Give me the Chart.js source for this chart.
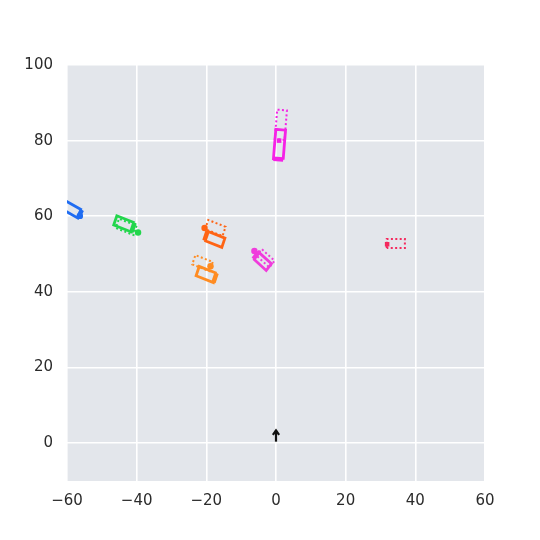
<!DOCTYPE html>
<html>
<head>
<meta charset="utf-8">
<script src="https://cdn.jsdelivr.net/npm/chart.js@4.4.1/dist/chart.umd.min.js"></script>
<style>
  html, body { margin: 0; padding: 0; background: #fff; }
</style>
</head>
<body>
<canvas id="scene" width="540" height="540"></canvas>
<script>
// axis ticks
var xTicks = [-60, -40, -20, 0, 20, 40, 60];
var yTicks = [0, 20, 40, 60, 80, 100];

// agents: x, y in metres, heading in degrees
var agentNames = ['blue', 'green', 'orangeA', 'orangeB', 'magentaA', 'magentaB', 'red'];
var carX = [-58.6, -43.6, -17.6, -20.0, 1.0, -3.9, null];
var carY = [61.8, 58.0, 53.9, 44.6, 79.0, 48.1, null];
var carHeading = [-28, -20, 160, -20, -95, 140, null];
var ghostX = [null, -43.0, -17.4, -21.1, 1.4, -3.0, 34.4];
var ghostY = [null, 57.2, 56.9, 47.6, 84.2, 48.9, 52.8];
var ghostHeading = [null, -20, 160, -20, -95, 140, 180];
var dotX = [-56.3, -39.6, -20.5, -18.8, 0.9, -6.2, 31.9];
var dotY = [60.1, 55.7, 56.9, 46.8, 80.0, 50.8, 52.6];
var carLength = [5.2, 5.4, 5.3, 5.3, 7.8, 4.8, 5.2];
var carWidth = [2.4, 2.6, 2.6, 2.6, 2.8, 2.3, 2.4];

// ego arrow
var arrowX = [0, 0];
var arrowY = [0.4, 3.4];
var arrowHeadX = [-0.9, 0, 0.9];
var arrowHeadY = [2.2, 3.4, 2.2];

var colors = ['#1f6cf2', '#22d64c', '#ff6414', '#ff8c22', '#f522e6', '#f03cdc', '#f42a5e'];
var dotStyles = ['circle', 'circle', 'circle', 'circle', 'rect', 'circle', 'rect'];

function corners(cx, cy, hdg, len, wid) {
  var a = hdg * Math.PI / 180;
  var dx = Math.cos(a), dy = Math.sin(a);
  var px = -dy, py = dx;
  var hl = len / 2, hw = wid / 2;
  return [
    {x: cx + dx * hl + px * hw, y: cy + dy * hl + py * hw},
    {x: cx + dx * hl - px * hw, y: cy + dy * hl - py * hw},
    {x: cx - dx * hl - px * hw, y: cy - dy * hl - py * hw},
    {x: cx - dx * hl + px * hw, y: cy - dy * hl + py * hw}
  ];
}

function zip(xs, ys) {
  return xs.map(function (x, i) { return {x: x, y: ys[i]}; });
}

var datasets = [];
function lineSet(points, color, width, dash) {
  datasets.push({
    type: 'scatter', data: points, showLine: true, borderColor: color,
    borderWidth: width, borderDash: dash || [], pointRadius: 0,
    tension: 0, fill: false, clip: 0
  });
}

agentNames.forEach(function (name, i) {
  if (ghostX[i] !== null) {
    var g = corners(ghostX[i], ghostY[i], ghostHeading[i], carLength[i], carWidth[i]);
    lineSet(g.concat([g[0]]), colors[i], 2, [2, 2.4]);
  }
  if (carX[i] !== null) {
    var c = corners(carX[i], carY[i], carHeading[i], carLength[i], carWidth[i]);
    lineSet(c.concat([c[0]]), colors[i], 2.8);
    lineSet([c[0], c[1]], colors[i], 4.5);
  }
  datasets.push({
    type: 'scatter', data: [{x: dotX[i], y: dotY[i]}], backgroundColor: colors[i],
    borderWidth: 0, pointRadius: 3.2, pointStyle: dotStyles[i], clip: 0
  });
});

lineSet(zip(arrowX, arrowY), '#111', 2.2);
lineSet(zip(arrowHeadX, arrowHeadY), '#111', 2.2);

var tickFont = {family: 'DejaVu Sans', size: 15};
var tickColor = '#2b2b2b';
function minusLabel(v) { return String(v).replace('-', '\u2212'); }

var plotBackground = {
  id: 'plotBackground',
  beforeDraw: function (chart) {
    var a = chart.chartArea, ctx = chart.ctx;
    ctx.save();
    ctx.fillStyle = '#e3e6eb';
    ctx.fillRect(a.left, a.top, a.right - a.left, a.bottom - a.top);
    ctx.restore();
  }
};

new Chart(document.getElementById('scene'), {
  type: 'scatter',
  data: {datasets: datasets},
  options: {
    responsive: false,
    animation: false,
    layout: {padding: {left: 0, top: 65, right: 55, bottom: 0}},
    plugins: {legend: {display: false}, tooltip: {enabled: false}},
    scales: {
      x: {
        type: 'linear', min: -60, max: 60,
        afterBuildTicks: function (s) { s.ticks = xTicks.map(function (v) { return {value: v}; }); },
        afterFit: function (s) { s.height = 59; },
        grid: {color: '#ffffff', lineWidth: 1.6, drawTicks: false},
        border: {display: false},
        ticks: {padding: 11, font: tickFont, color: tickColor, callback: minusLabel}
      },
      y: {
        type: 'linear', min: -10, max: 100,
        afterBuildTicks: function (s) { s.ticks = yTicks.map(function (v) { return {value: v}; }); },
        afterFit: function (s) { s.width = 67; },
        grid: {color: '#ffffff', lineWidth: 1.6, drawTicks: false},
        border: {display: false},
        ticks: {padding: 14, font: tickFont, color: tickColor, callback: minusLabel}
      }
    }
  },
  plugins: [plotBackground]
});
</script>
</body>
</html>
